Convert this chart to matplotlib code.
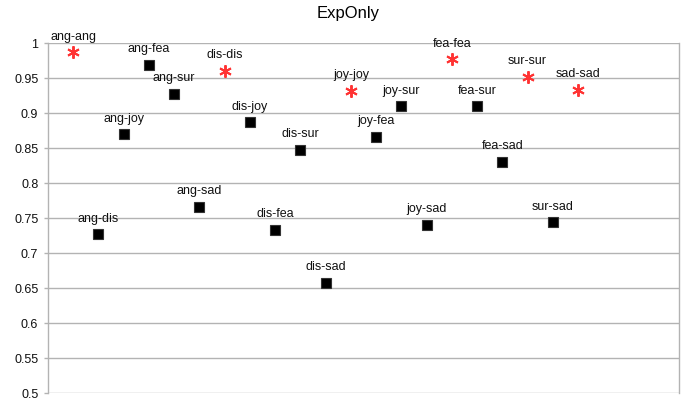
import matplotlib
matplotlib.use("Agg")
import matplotlib.pyplot as plt

plt.rcParams['font.family'] = ['Liberation Sans', 'DejaVu Sans']

labels = ["ang-ang", "ang-dis", "ang-joy", "ang-fea", "ang-sur", "ang-sad",
          "dis-dis", "dis-joy", "dis-fea", "dis-sur", "dis-sad",
          "joy-joy", "joy-fea", "joy-sur", "joy-sad",
          "fea-fea", "fea-sur", "fea-sad",
          "sur-sur", "sur-sad",
          "sad-sad"]
values = [0.987, 0.727, 0.870, 0.969, 0.928, 0.766,
          0.961, 0.887, 0.733, 0.848, 0.658,
          0.932, 0.866, 0.910, 0.740,
          0.977, 0.910, 0.831,
          0.952, 0.744,
          0.933]
yticks = [0.5, 0.55, 0.6, 0.65, 0.7, 0.75, 0.8, 0.85, 0.9, 0.95, 1]
ytick_labels = ["0.5", "0.55", "0.6", "0.65", "0.7", "0.75", "0.8", "0.85", "0.9", "0.95", "1"]

fig = plt.figure(figsize=(6.96, 4.0), dpi=100)
ax = fig.add_axes([0.069, 0.0175, 0.9065, 0.8742])

xs = list(range(1, len(labels) + 1))
for x, lab, v in zip(xs, labels, values):
    a, b = lab.split("-")
    if a == b:
        ax.plot(x, v, marker=(6, 2, 0), markersize=9, markeredgewidth=1.4,
                color="#ff3333", linestyle="none", zorder=3)
    else:
        ax.plot(x, v, marker="s", markersize=7.2, markerfacecolor="black",
                markeredgecolor="#333333", markeredgewidth=0.8,
                linestyle="none", zorder=3)
    ax.annotate(lab, (x, v), xytext=(0, 7), textcoords="offset points",
                ha="center", va="bottom", fontsize=9, color="#111111", zorder=4)

ax.set_xlim(0, 25)
ax.set_ylim(0.5, 1.0)
ax.set_yticks(yticks)
ax.set_yticklabels(ytick_labels)
ax.set_xticks([])
ax.tick_params(axis="y", length=3, width=1, color="#b3b3b3", labelsize=9,
               labelcolor="#111111", pad=4)
ax.grid(axis="y", color="#b3b3b3", linewidth=1)
ax.set_axisbelow(True)
for side in ["left", "right", "bottom"]:
    ax.spines[side].set_color("#b3b3b3")
    ax.spines[side].set_linewidth(1)
ax.spines["top"].set_visible(False)
ax.spines["bottom"].set_visible(False)

fig.suptitle("ExpOnly", fontsize=12, y=0.985, x=0.5)
fig.savefig("out.png", dpi=100)
